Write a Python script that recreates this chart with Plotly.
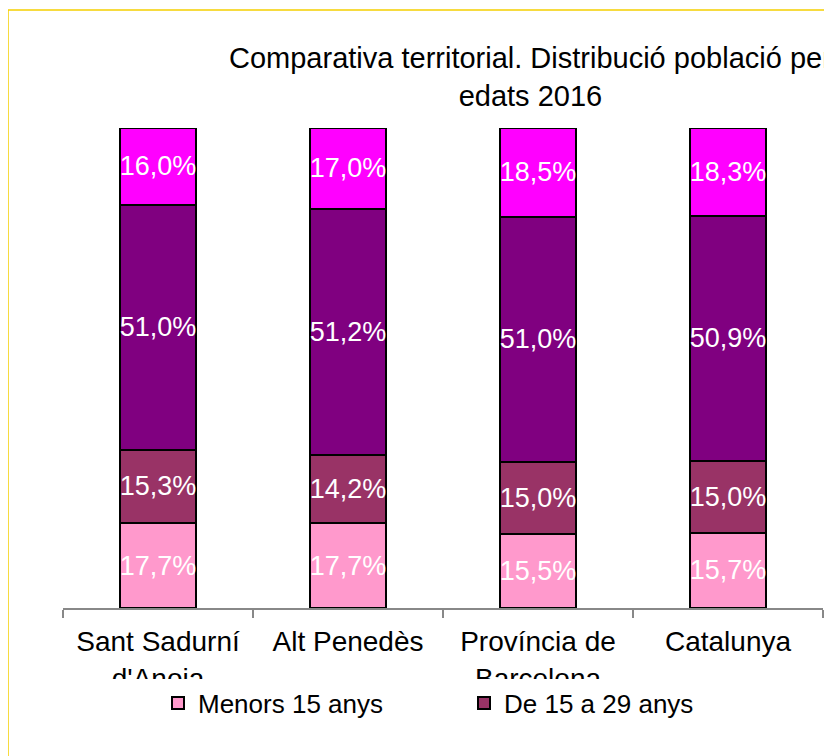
import plotly.graph_objects as go

categories = ["Sant Sadurní<br>d'Anoia", "Alt Penedès", "Província de<br>Barcelona", "Catalunya"]
series_names = ["Menors 15 anys", "De 15 a 29 anys", "De 30 a 64 anys", "65 anys i més"]
menors15 = [17.7, 17.7, 15.5, 15.7]
de15a29 = [15.3, 14.2, 15.0, 15.0]
de30a64 = [51.0, 51.2, 51.0, 50.9]
mes65 = [16.0, 17.0, 18.5, 18.3]
colors = ["#FF99CC", "#993366", "#800080", "#FF00FF"]
show_in_legend = [True, True, False, False]
title_text = "Comparativa territorial. Distribució població per<br>edats 2016"

OFF = 8  # page body margin
W, H = 832 - OFF, 756 - OFF
L, R, T, B = 63 - OFF, 9, 128 - OFF, 148
pw, ph = W - L - R, H - T - B

def px_x(x):
    return (x - OFF - L) / pw

def px_y(y):
    return (H - B - (y - OFF)) / ph

FONT = "Liberation Sans, Arial, sans-serif"

fig = go.Figure()
for name, vals, col, sl in zip(series_names, [menors15, de15a29, de30a64, mes65], colors, show_in_legend):
    fig.add_trace(go.Bar(
        x=categories, y=vals, name=name, showlegend=sl,
        marker=dict(color=col, line=dict(color="#000000", width=2)),
        texttemplate="%{y:.1f}%", textposition="inside", insidetextanchor="middle",
        constraintext="none", textangle=0,
        textfont=dict(color="#FFFFFF", size=27, family=FONT),
        width=0.4,
    ))

fig.update_layout(
    width=W, height=H, barmode="stack", separators=",.",
    paper_bgcolor="#FFFFFF", plot_bgcolor="#FFFFFF",
    margin=dict(l=L, r=R, t=T, b=B, autoexpand=False),
    font=dict(family=FONT, size=25, color="#000000"),
    xaxis=dict(showline=True, linecolor="#888888", linewidth=1.5, ticks="outside",
               tickson="boundaries", ticklen=8, tickcolor="#888888", tickwidth=1.5,
               ticklabelstandoff=8,
               tickfont=dict(size=28, family=FONT, color="#000000"), showgrid=False,
               fixedrange=True),
    yaxis=dict(range=[0, 100], visible=False, showgrid=False, fixedrange=True),
    legend=dict(orientation="h", x=px_x(158), xanchor="left", y=px_y(703), yanchor="middle",
                font=dict(size=26, family=FONT, color="#000000"), entrywidth=261,
                bgcolor="rgba(0,0,0,0)", traceorder="normal"),
    shapes=[
        dict(type="rect", xref="paper", yref="paper", x0=px_x(8), x1=px_x(900),
             y0=px_y(800), y1=px_y(10), line=dict(color="#F5D000", width=1.5),
             fillcolor="rgba(0,0,0,0)", layer="below"),
        dict(type="rect", xref="paper", yref="paper", x0=px_x(20), x1=px_x(831),
             y0=px_y(745), y1=px_y(679), line=dict(width=0),
             fillcolor="#FFFFFF", layer="above"),
    ],
    annotations=[
        dict(text=title_text, xref="paper", yref="paper", x=px_x(530), y=px_y(40),
             xanchor="center", yanchor="top", showarrow=False, align="center",
             font=dict(size=29, family=FONT, color="#000000")),
    ],
)

fig.write_html("out.html", config={"displayModeBar": False})
